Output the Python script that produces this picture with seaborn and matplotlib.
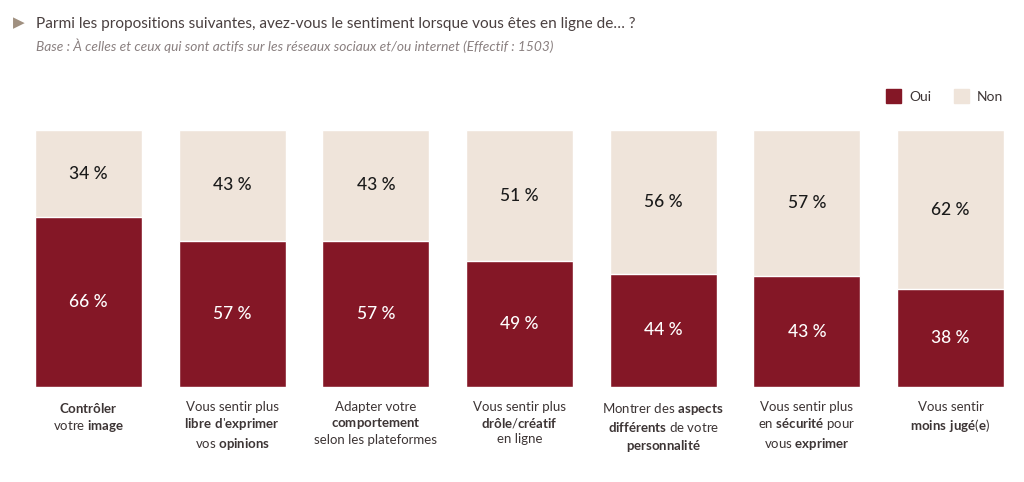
import matplotlib
matplotlib.use("Agg")
import matplotlib.pyplot as plt
import seaborn as sns
import pandas as pd
from matplotlib.patches import Patch

sns.set_theme(style="white")
plt.rcParams['font.family'] = ['Lato', 'DejaVu Sans']
plt.rcParams['mathtext.fontset'] = 'custom'
plt.rcParams['mathtext.rm'] = 'Lato'
plt.rcParams['mathtext.bf'] = 'Lato:bold'

# data
items = ['c1', 'c2', 'c3', 'c4', 'c5', 'c6', 'c7']
oui = [66, 57, 57, 49, 44, 43, 38]
non = [34, 43, 43, 51, 56, 57, 62]
labels = [
    "$\\mathbf{Contrôler}$\nvotre $\\mathbf{image}$",
    "Vous sentir plus\n$\\mathbf{libre\\ d}$'$\\mathbf{exprimer}$\nvos $\\mathbf{opinions}$",
    "Adapter votre\n$\\mathbf{comportement}$\nselon les plateformes",
    "Vous sentir plus\n$\\mathbf{drôle}$/$\\mathbf{créatif}$\nen ligne",
    "Montrer des $\\mathbf{aspects}$\n$\\mathbf{différents}$ de votre\n$\\mathbf{personnalité}$",
    "Vous sentir plus\nen $\\mathbf{sécurité}$ pour\nvous $\\mathbf{exprimer}$",
    "Vous sentir\n$\\mathbf{moins\\ jugé}$($\\mathbf{e}$)",
]

red = '#841726'
beige = '#EFE4DA'
txt = '#3d3535'

df = pd.DataFrame({'item': items, 'oui': oui, 'non': non})
df['total'] = df['oui'] + df['non']

fig = plt.figure(figsize=(10.24, 4.82), dpi=100)
ax = fig.add_axes([35/1024, 1 - 387/482, 969/1024, 257/482])

w = 0.745
sns.barplot(data=df, x='item', y='total', color=beige, width=w, saturation=1, ax=ax)
sns.barplot(data=df, x='item', y='oui', color=red, width=w, saturation=1, ax=ax)

for i, (o, n) in enumerate(zip(oui, non)):
    ax.text(i, o / 2, f"{o} %", ha='center', va='center', color='white',
            fontsize=12.5, fontweight='medium')
    ax.text(i, o + n / 2, f"{n} %", ha='center', va='center', color='#1a1a1a',
            fontsize=12.5, fontweight='medium')

ax.set_xlim(-w / 2, len(items) - 1 + w / 2)
ax.set_ylim(0, 100)
ax.set_xlabel('')
ax.set_ylabel('')
ax.set_yticks([])
ax.set_xticks(range(len(items)))
ax.set_xticklabels(labels, fontsize=9.5, color=txt, linespacing=1.3)
ax.tick_params(axis='x', length=0, pad=10)
sns.despine(ax=ax, left=True, bottom=True)

fig.text(13/1024, 1 - 23/482, "\u25B6", fontsize=11, color='#a09080', va='center')
fig.text(36/1024, 1 - 24/482,
         "Parmi les propositions suivantes, avez-vous le sentiment lorsque vous êtes en ligne de… ?",
         fontsize=11.1, color='#4a4040', va='center')
fig.text(36/1024, 1 - 46/482,
         "Base : À celles et ceux qui sont actifs sur les réseaux sociaux et/ou internet (Effectif : 1503)",
         fontsize=9.9, color='#8a8080', style='italic', va='center')

handles = [Patch(color=red, label='Oui'), Patch(color=beige, label='Non')]
fig.legend(handles=handles, loc='center right', bbox_to_anchor=(1016/1024, 1 - 96/482),
           ncol=2, frameon=False, fontsize=10, handlelength=1.1, handleheight=1.1,
           columnspacing=1.6, handletextpad=0.6, labelcolor=txt)

fig.savefig('out.png', dpi=100, facecolor='white')
